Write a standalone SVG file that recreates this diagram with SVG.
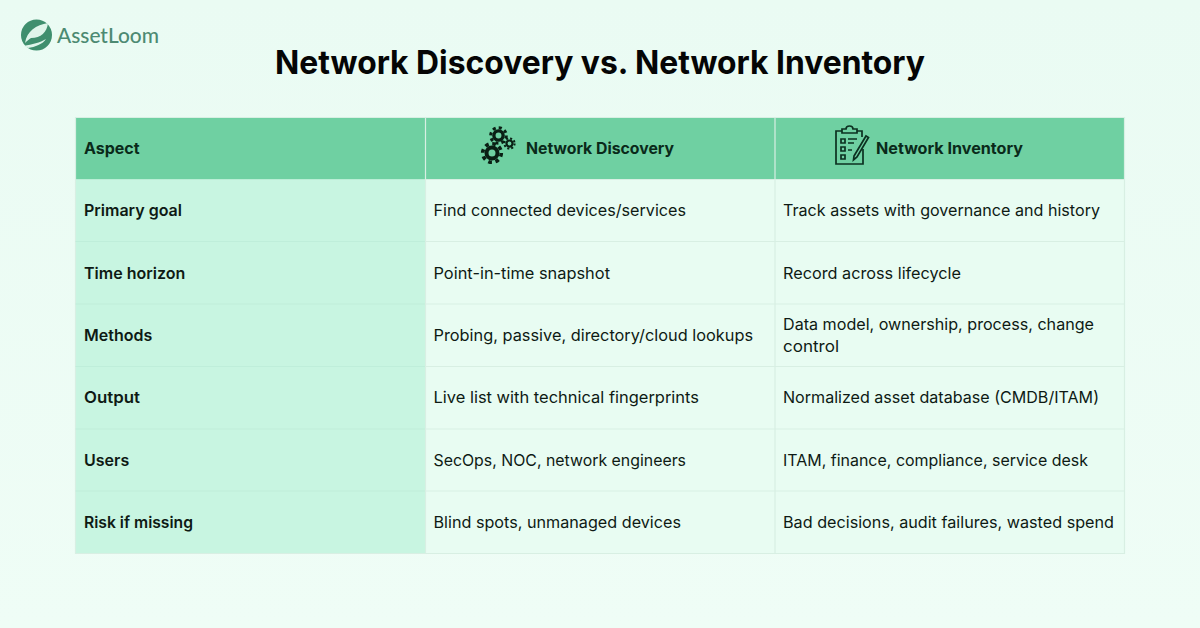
<svg xmlns="http://www.w3.org/2000/svg" width="1200" height="628" viewBox="0 0 1200 628">
<style>
text{font-family:"Inter","Liberation Sans",sans-serif;fill:#0e1a14}
.t{font-size:16.200px}
.b{font-size:16px;font-weight:600}
.h{font-size:16px;font-weight:700;fill:#0a2a1a}
.line{stroke:#d8efe3;stroke-width:1.200;fill:none}
.ic{fill:none;stroke:#0c3020;stroke-width:1.700}
</style>
<defs>
<linearGradient id="bg" x1="0" y1="0" x2="0" y2="1"><stop offset="0" stop-color="#eafbf3"/><stop offset="1" stop-color="#effdf6"/></linearGradient>
<g id="gear"><circle r="5.500" fill="none" stroke="#0a1f14" stroke-width="4"/><circle r="9.300" fill="none" stroke="#0a1f14" stroke-width="3.600" stroke-dasharray="3.700 3.600"/></g>
</defs>
<rect width="1200" height="628" fill="url(#bg)"/>
<g id="logo">
<circle cx="36.500" cy="35" r="15.500" fill="#3f8f6e"/>
<path d="M25 43C27 31 36 25 48 23C47 32 41 38 31 38C29 39 27 41 25 43Z" fill="#dff5ea"/>
<path d="M24 46C32 44 40 43 46 39C43 44 35 47 28 48Z" fill="#dff5ea"/>
<text x="57" y="42.500" style="font-size:20.800px;font-weight:500;fill:#4d8a72;font-family:'Lato','Liberation Sans',sans-serif" textLength="102" lengthAdjust="spacingAndGlyphs">AssetLoom</text>
</g>
<text id="title" x="600" y="74" text-anchor="middle" style="font-size:33px;font-weight:700;fill:#050505" textLength="650" lengthAdjust="spacingAndGlyphs">Network Discovery vs. Network Inventory</text>
<g id="table-bg">
<rect x="75.500" y="117.500" width="1049" height="62" fill="#6fd0a2"/>
<rect x="75.500" y="179.500" width="350" height="374" fill="#c8f5e1"/>
<rect x="425.500" y="179.500" width="699" height="374" fill="#e8fcf2"/>
</g>
<g id="connectors">
<path class="line" d="M75.500 117.500H1124.500V553.500H75.500Z"/>
<path class="line" d="M425.500 179.500H1124.500M425.500 241.500H1124.500M425.500 304H1124.500M425.500 366.500H1124.500M425.500 429H1124.500M425.500 491H1124.500"/>
<path d="M75.500 241.500H425.500M75.500 304H425.500M75.500 366.500H425.500M75.500 429H425.500M75.500 491H425.500" stroke="#bfeeda" stroke-width="1.200" fill="none"/>
<path class="line" d="M425.500 117.500V553.500M775 117.500V553.500"/>
</g>
<g id="header-aspect"><text class="h" x="84" y="154">Aspect</text></g>
<g id="header-discovery">
<use href="#gear" transform="translate(498.500,135.500) scale(.84)"/>
<use href="#gear" transform="translate(492,153) scale(1)"/>
<use href="#gear" transform="translate(509.500,143.500) scale(.55)"/>
<text class="h" x="526" y="154" textLength="148" lengthAdjust="spacingAndGlyphs">Network Discovery</text>
</g>
<g id="header-inventory">
<path class="ic" d="M842 131H836V164H863V149M857 131H862V137"/>
<path class="ic" d="M842 133V129H846C846 125 853 125 853 129H857V133Z"/>
<path class="ic" d="M841 139h4v4h-4zM841 147h4v4h-4zM841 155h4v4h-4zM848 139h9M848 143h6M848 150h4"/>
<path class="ic" d="M854 156L866 136L868.500 137.500L857 157L853.500 160Z"/>
<text class="h" x="876" y="154" textLength="147" lengthAdjust="spacingAndGlyphs">Network Inventory</text>
</g>
<g id="row-labels">
<text class="b" x="84" y="216">Primary goal</text>
<text class="b" x="84" y="279">Time horizon</text>
<text class="b" x="84" y="341">Methods</text>
<text class="b" x="84" y="403" textLength="56" lengthAdjust="spacingAndGlyphs">Output</text>
<text class="b" x="84" y="466">Users</text>
<text class="b" x="84" y="528" textLength="109" lengthAdjust="spacingAndGlyphs">Risk if missing</text>
</g>
<g id="discovery-cells">
<text class="t" x="433.500" y="216" textLength="252.500" lengthAdjust="spacingAndGlyphs">Find connected devices/services</text>
<text class="t" x="433.500" y="279" textLength="176.500" lengthAdjust="spacingAndGlyphs">Point-in-time snapshot</text>
<text class="t" x="433.500" y="341" textLength="319.500" lengthAdjust="spacingAndGlyphs">Probing, passive, directory/cloud lookups</text>
<text class="t" x="433.500" y="403" textLength="265.500" lengthAdjust="spacingAndGlyphs">Live list with technical fingerprints</text>
<text class="t" x="433.500" y="466" textLength="252.500" lengthAdjust="spacingAndGlyphs">SecOps, NOC, network engineers</text>
<text class="t" x="433.500" y="528" textLength="247.500" lengthAdjust="spacingAndGlyphs">Blind spots, unmanaged devices</text>
</g>
<g id="inventory-cells">
<text class="t" x="783" y="216" textLength="317" lengthAdjust="spacingAndGlyphs">Track assets with governance and history</text>
<text class="t" x="783" y="279" textLength="178" lengthAdjust="spacingAndGlyphs">Record across lifecycle</text>
<text class="t" x="783" y="330" textLength="311" lengthAdjust="spacingAndGlyphs">Data model, ownership, process, change</text>
<text class="t" x="783" y="352" textLength="56" lengthAdjust="spacingAndGlyphs">control</text>
<text class="t" x="783" y="403" textLength="316" lengthAdjust="spacingAndGlyphs">Normalized asset database (CMDB/ITAM)</text>
<text class="t" x="783" y="466" textLength="305" lengthAdjust="spacingAndGlyphs">ITAM, finance, compliance, service desk</text>
<text class="t" x="783" y="528" textLength="331" lengthAdjust="spacingAndGlyphs">Bad decisions, audit failures, wasted spend</text>
</g>
</svg>
